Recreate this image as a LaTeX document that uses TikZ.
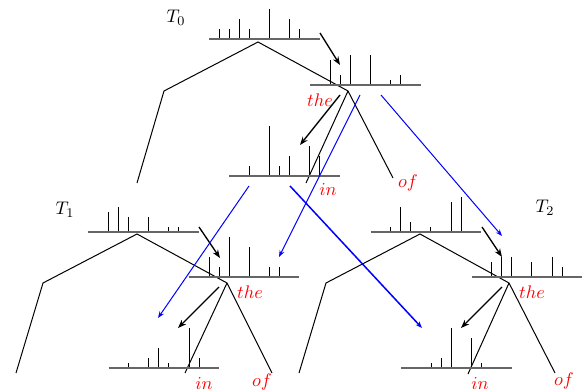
\documentclass[tikz,border=0pt,11pt]{standalone}
\usetikzlibrary{arrows.meta}

\tikzset{
    hbase/.style={draw=black!60, line width=1.2pt},
    hbar/.style={line width=0.5pt},
    branch/.style={line width=0.6pt},
    word/.style={text=red},
    jump/.style={->, line width=0.8pt},
    link/.style={->, blue, line width=0.6pt, >={Stealth[length=4pt]}},
}

\begin{document}
\begin{tikzpicture}[x=0.6pt,y=-0.6pt,>={Stealth[length=5pt]}]
    \useasboundingbox (0,0) rectangle (585,392);
    % T_0
    \begin{scope}[shift={(258,42)}]
        \node (t0) at (-82,-24) {$T_0$};
        \draw[hbar] (-39,-2.5) -- ++(0,-10) (-29,-2.5) -- ++(0,-10)
            (-19,-2.5) -- ++(0,-20) (-9,-2.5) -- ++(0,-10)
            (11,-2.5) -- ++(0,-30) (31,-2.5) -- ++(0,-20) (41,-2.5) -- ++(0,-10);
        \draw[hbase] (-49,-2.5) -- (62,-2.5);
        \draw[branch] (-121,141) -- (-94,49) -- (0,0) -- (90,49) -- (135,136);
        \draw[branch] (48,141) -- (90,49);
        % the
        \draw[hbar] (72,43) -- ++(0,-25) (82,43) -- ++(0,-10) (92,43) -- ++(0,-30)
            (112,43) -- ++(0,-30) (132,43) -- ++(0,-5) (142,43) -- ++(0,-10);
        \draw[hbase] (52,43) -- (163,43);
        % in
        \draw[hbar] (-9,133.7) -- ++(0,-10) (11,133.7) -- ++(0,-50)
            (21,133.7) -- ++(0,-10) (31,133.7) -- ++(0,-20)
            (51,133.7) -- ++(0,-30) (61,133.7) -- ++(0,-20);
        \draw[hbase] (-29,133.7) -- (82,133.7);
        \draw[jump] (62,-9) -- (82,23);
        \draw[jump] (82,53) -- (42,103);
        \node[word] (the0) at (62,58) {$the$};
        \node[word] (in0) at (70,147) {$in$};
        \node[word] (of0) at (150,141) {$of$};
        \coordinate (a0) at (102,53);
        \coordinate (b0) at (123,53);
        \coordinate (c0) at (-9,144);
        \coordinate (d0) at (32,144);
    \end{scope}
    % T_1
    \begin{scope}[shift={(137,234)}]
        \node (t1) at (-72,-24) {$T_1$};
        \draw[hbar] (-29,-2.3) -- ++(0,-20) (-19,-2.3) -- ++(0,-25)
            (-9,-2.3) -- ++(0,-15) (11,-2.3) -- ++(0,-15)
            (31,-2.3) -- ++(0,-5) (41,-2.3) -- ++(0,-5);
        \draw[hbase] (-49.5,-2.3) -- (61.5,-2.3);
        \draw[branch] (-121,139) -- (-94,49) -- (0,0) -- (90,49) -- (135,139);
        \draw[branch] (48,139) -- (90,49);
        % the
        \draw[hbar] (72,43.3) -- ++(0,-20) (82,43.3) -- ++(0,-10) (92,43.3) -- ++(0,-40)
            (112,43.3) -- ++(0,-30) (132,43.3) -- ++(0,-10) (142,43.3) -- ++(0,-10);
        \draw[hbase] (51.5,43.3) -- (162,43.3);
        % in
        \draw[hbar] (-9,133.7) -- ++(0,-5) (11,133.7) -- ++(0,-10)
            (21,133.7) -- ++(0,-20) (31,133.7) -- ++(0,-5)
            (52,133.7) -- ++(0,-40) (62,133.7) -- ++(0,-10);
        \draw[hbase] (-28.5,133.7) -- (81.5,133.7);
        \draw[jump] (62,-7) -- (83,24);
        \draw[jump] (82,53) -- (41,94);
        \node[word] (the1) at (113,58) {$the$};
        \node[word] (in1) at (67,149) {$in$};
        \node[word] (of1) at (125,148) {$of$};
        \coordinate (a1) at (142,23);
        \coordinate (c1) at (21,84);
    \end{scope}
    % T_2
    \begin{scope}[shift={(420,234)}]
        \node (t2) at (125,-26) {$T_2$};
        \draw[hbar] (-29.3,-2.3) -- ++(0,-5) (-19.3,-2.3) -- ++(0,-25)
            (-9.3,-2.3) -- ++(0,-10) (10.7,-2.3) -- ++(0,-5)
            (31.7,-2.3) -- ++(0,-30) (41.7,-2.3) -- ++(0,-35);
        \draw[hbase] (-49.3,-2.3) -- (61,-2.3);
        \draw[branch] (-121,139) -- (-94,49) -- (0,0) -- (89,49) -- (135,139);
        \draw[branch] (48,140) -- (89,49);
        % the
        \draw[hbar] (71.7,43.3) -- ++(0,-15) (81.7,43.3) -- ++(0,-20) (91.7,43.3) -- ++(0,-20)
            (111.7,43.3) -- ++(0,-15) (132.3,43.3) -- ++(0,-20) (142.3,43.3) -- ++(0,-10);
        \draw[hbase] (51.7,43.3) -- (161.7,43.3);
        % in
        \draw[hbar] (11,133.7) -- ++(0,-5) (21,133.7) -- ++(0,-10)
            (31.7,133.7) -- ++(0,-40) (51.7,133.7) -- ++(0,-30)
            (61.7,133.7) -- ++(0,-5);
        \draw[hbase] (-19,133.7) -- (91.7,133.7);
        \draw[jump] (62,-7) -- (82,23);
        \draw[jump] (82,53) -- (41,94);
        \node[word] (the2) at (112,58) {$the$};
        \node[word] (in2) at (60,149) {$in$};
        \node[word] (of2) at (144,147) {$of$};
        \coordinate (b2) at (82,2);
        \coordinate (d2) at (2,94);
    \end{scope}
    % links between the trees
    \draw[link] (a0) -- (a1);
    \draw[link] (b0) -- (b2);
    \draw[link] (c0) -- (c1);
    \draw[link, line width=0.9pt] (d0) -- (d2);
\end{tikzpicture}
\end{document}
